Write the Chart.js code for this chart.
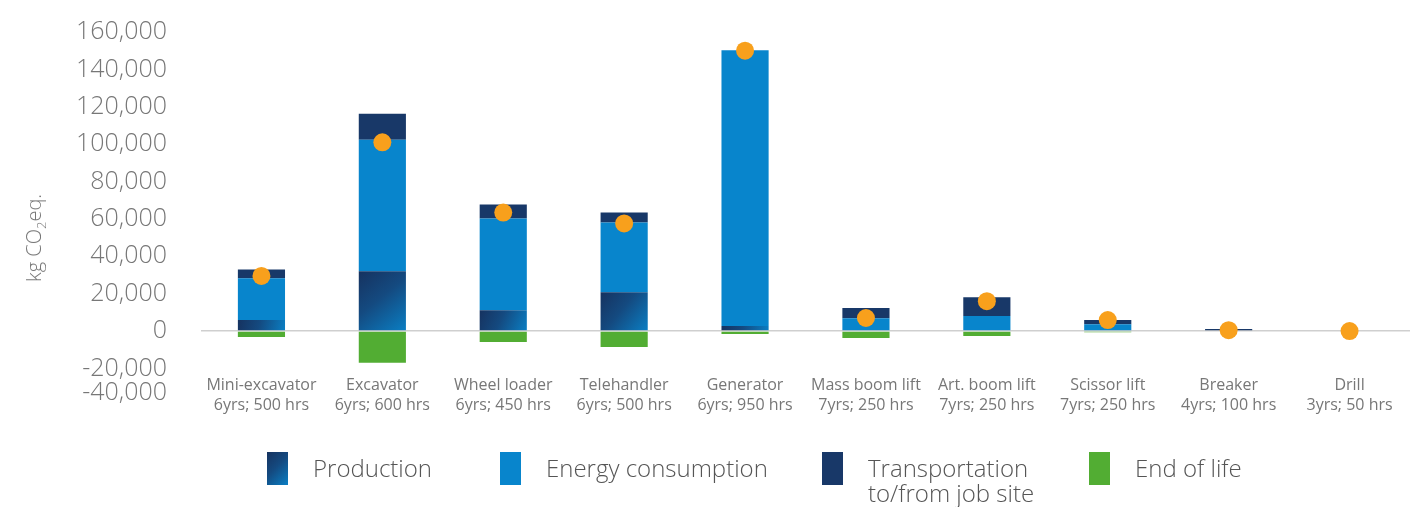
<!DOCTYPE html>
<html>
<head>
<meta charset="utf-8">
<script src="https://cdn.jsdelivr.net/npm/chart.js@4.4.1/dist/chart.umd.min.js"></script>
<style>
	body { margin: 0; background: #fff; font-family: 'Open Sans', sans-serif; }
	#wrap { position: relative; width: 1419px; height: 507px; }
	#ytitle {
		position: absolute; left: 35px; top: 238px;
		transform: translate(-50%, -50%) rotate(-90deg);
		font-size: 20px; color: #777; white-space: nowrap; font-weight: 300;
	}
	#ytitle sub { font-size: 13px; }
	.leg { position: absolute; top: 452px; display: flex; align-items: flex-start; }
	.leg .box { width: 21px; height: 33px; }
	.leg .txt { margin-left: 25px; font-size: 24px; line-height: 25px; color: #555; padding-top: 3px; font-weight: 300; }
</style>
</head>
<body>
<div id="wrap">
	<canvas id="myChart" width="1419" height="507"></canvas>
	<div id="ytitle">kg CO<sub>2</sub>eq.</div>
</div>
<script>
// categories and values (kg CO2 eq.)
const categories = [
	['Mini-excavator', '6yrs; 500 hrs'],
	['Excavator', '6yrs; 600 hrs'],
	['Wheel loader', '6yrs; 450 hrs'],
	['Telehandler', '6yrs; 500 hrs'],
	['Generator', '6yrs; 950 hrs'],
	['Mass boom lift', '7yrs; 250 hrs'],
	['Art. boom lift', '7yrs; 250 hrs'],
	['Scissor lift', '7yrs; 250 hrs'],
	['Breaker', '4yrs; 100 hrs'],
	['Drill', '3yrs; 50 hrs']
];
const production = [5900, 32000, 11200, 20800, 2700, 0, 0, 0, 0, 0];
const energy = [22300, 70300, 49000, 37300, 147600, 6900, 8000, 3700, 0, 0];
const transport = [4800, 13900, 7500, 5300, 0, 5400, 10100, 2200, 1100, 0];
const endOfLife = [-3200, -17000, -5900, -8500, -1600, -3700, -2700, -600, 0, 0];
const total = [29500, 101000, 63400, 57600, 150000, 7000, 16000, 5900, 500, 0];

// the original axis is broken below -20,000: its last label is squeezed in under the plot
const yTicks = [160000, 140000, 120000, 100000, 80000, 60000, 40000, 20000, 0, -20000, -40000];
const yMin = -23500;
const brokenTickAt = -33000;

const navy = '#183868';
const blue = '#0885cc';
const green = '#52ad33';
const orange = '#f8a01c';

function prodFill(ctx) {
	const chart = ctx.chart;
	if (!chart.chartArea || ctx.type !== 'data') return navy;
	const x = chart.scales.x.getPixelForValue(ctx.dataIndex);
	const y0 = chart.scales.y.getPixelForValue(0);
	const y1 = chart.scales.y.getPixelForValue(ctx.raw);
	const g = chart.ctx.createLinearGradient(x - 24, y1, x + 24, y0);
	g.addColorStop(0, '#16325f');
	g.addColorStop(0.45, '#144a80');
	g.addColorStop(1, '#0a7fc4');
	return g;
}

Chart.defaults.font.family = "'Open Sans', sans-serif";

const chart = new Chart(document.getElementById('myChart'), {
	data: {
		labels: categories,
		datasets: [
			{ type: 'line', label: 'Total', data: total, showLine: false, pointRadius: 9, pointHoverRadius: 9,
				pointBackgroundColor: orange, pointBorderWidth: 0, order: 0 },
			{ type: 'bar', label: 'Production', data: production, backgroundColor: prodFill, order: 1 },
			{ type: 'bar', label: 'Energy consumption', data: energy, backgroundColor: blue, order: 1 },
			{ type: 'bar', label: ['Transportation', 'to/from job site'], data: transport, backgroundColor: navy, order: 1 },
			{ type: 'bar', label: 'End of life', data: endOfLife, backgroundColor: green, order: 1 }
		]
	},
	options: {
		responsive: false,
		animation: false,
		layout: { padding: { top: 32, right: 8, bottom: 92, left: 0 } },
		datasets: { bar: { barPercentage: 0.39, categoryPercentage: 1 } },
		scales: {
			x: {
				stacked: true,
				grid: { display: false, drawTicks: false },
				border: { display: false },
				ticks: { padding: 0, color: '#777', font: { size: 16, lineHeight: 1.25 }, maxRotation: 0, autoSkip: false },
				afterFit: s => { s.height = 40; }
			},
			y: {
				stacked: true,
				min: yMin,
				max: 160000,
				afterBuildTicks: s => { s.ticks = yTicks.map(v => ({ value: v < -20000 ? brokenTickAt : v })); },
				ticks: {
					autoSkip: false,
					padding: 34, color: '#777', font: { size: 25, weight: '300' },
					callback: (v, i) => yTicks[i].toLocaleString('en-US')
				},
				grid: {
					drawTicks: false,
					color: c => (c.tick && c.tick.value === 0) ? '#cfcfcf' : 'rgba(0,0,0,0)',
					lineWidth: 1.5
				},
				border: { display: false },
				// fixed width; tick padding should only push labels sideways, not shrink the plot
				afterFit: s => { s.width = 201; s.paddingTop = 0; s.paddingBottom = 0; }
			}
		},
		plugins: { legend: { display: false }, tooltip: { enabled: false } }
	}
});

// legend under the chart
const legendLeft = [267, 500, 822, 1089];
const legendBox = ['linear-gradient(135deg, #16325f 0%, #144a80 45%, #0a7fc4 100%)', blue, navy, green];
const wrap = document.getElementById('wrap');
chart.data.datasets.slice(1).forEach((ds, i) => {
	const item = document.createElement('div');
	item.className = 'leg';
	item.style.left = legendLeft[i] + 'px';
	const box = document.createElement('div');
	box.className = 'box';
	box.style.background = legendBox[i];
	const txt = document.createElement('div');
	txt.className = 'txt';
	txt.innerHTML = [].concat(ds.label).join('<br>');
	item.appendChild(box);
	item.appendChild(txt);
	wrap.appendChild(item);
});
</script>
</body>
</html>
